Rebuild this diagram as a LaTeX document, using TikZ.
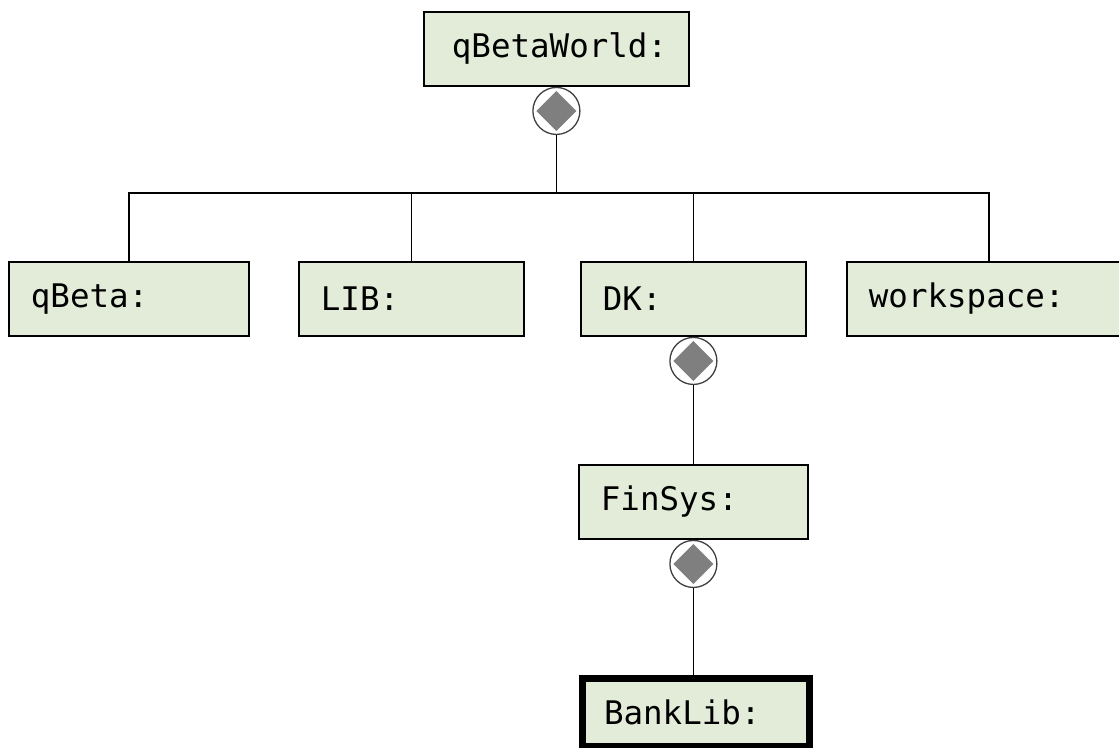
\documentclass[tikz,border=0pt]{standalone}
\usepackage{fontspec}
\newfontfamily\objmono{DejaVu Sans Mono}
\usepackage{xcolor}
\definecolor{objgreen}{HTML}{E2ECD9}
\definecolor{agggray}{HTML}{7F7F7F}
\usetikzlibrary{positioning}

\tikzset{
  obj/.style={draw=black, fill=objgreen, line width=1.8pt, anchor=north west,
    minimum height=74pt, inner xsep=22pt, inner ysep=0pt, align=left,
    font=\objmono\fontsize{32.5}{38}\selectfont},
  focus/.style={obj, line width=7pt, minimum height=68pt},
  agg/.style={circle, draw=black!75, fill=white, line width=1.3pt, minimum size=47pt, inner sep=0pt,
    path picture={\fill[agggray] (path picture bounding box.center) +(0,-20pt) -- +(20pt,0)
      -- +(0,20pt) -- +(-20pt,0) -- cycle;}},
  link/.style={line width=1.8pt}
}

\begin{document}
\begin{tikzpicture}[x=1pt,y=-1pt]
  \useasboundingbox (0,0) rectangle (1119,747);

  % root and its parts
  \node[obj, inner xsep=28pt, text width=209pt] (world) at (423,11) {qBetaWorld:};
  \node[agg, below=0pt of world] (worldagg) {};

  \node[obj, text width=196pt] (qbeta) at (8,261) {qBeta:};
  \node[obj, text width=181pt] (lib) at (298,261) {LIB:};
  \node[obj, text width=181pt] (dk) at (580,261) {DK:};
  \node[obj, text width=240pt] (ws) at (846,261) {workspace:};

  \path (worldagg.south) ++(0,58) coordinate (bus);
  \draw[link] (worldagg.south) -- (bus);
  \draw[link] (qbeta.north) |- (bus);
  \draw[link] (lib.north) |- (bus);
  \draw[link] (dk.north) |- (bus);
  \draw[link] (ws.north) |- (bus);

  % DK down to BankLib
  \node[agg, below=0pt of dk] (dkagg) {};
  \node[obj, text width=185pt] (finsys) at (578,464) {FinSys:};
  \node[agg, below=0pt of finsys] (finagg) {};
  \node[focus, text width=183pt] (banklib) at (578.5,674.5) {BankLib:};

  \draw[link] (dkagg.south) -- (dkagg.south |- finsys.north);
  \draw[link] (finagg.south) -- (finagg.south |- banklib.north);
\end{tikzpicture}
\end{document}
